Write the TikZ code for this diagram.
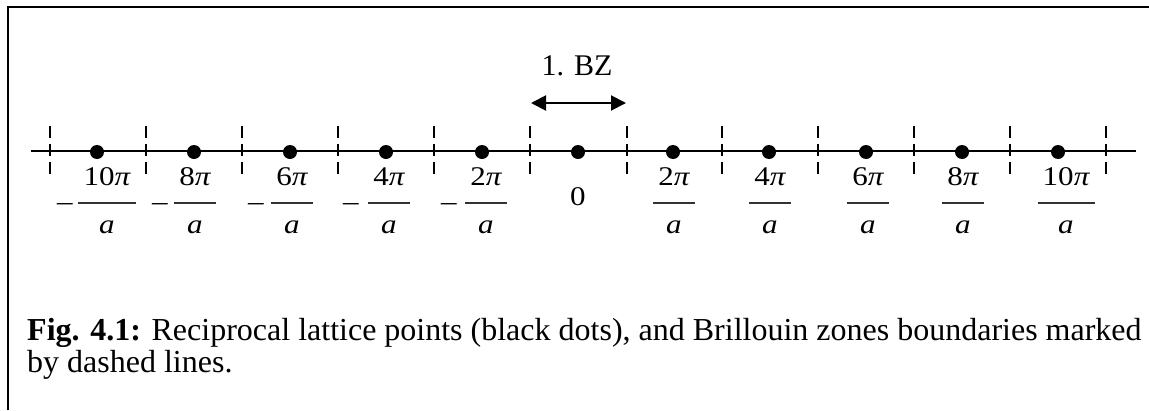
\documentclass[tikz,border=0pt]{standalone}
\usepackage{fontspec}
\setmainfont{Liberation Serif}
\newfontfamily\numfont{Liberation Serif}[FakeStretch=1.15]
\usetikzlibrary{arrows.meta}
\begin{document}
\begin{tikzpicture}[x=1pt,y=-1pt,
  lab/.style={font=\numfont\fontsize{27}{30}\selectfont, inner sep=0pt, anchor=base},
  latdot/.style={circle, fill=black, minimum size=14pt, inner sep=0pt},
  zone/.style={line width=1.6pt, dash pattern=on 12pt off 6pt},
  fbar/.style={line width=1.2pt, black!80},
  captext/.style={font=\fontsize{32}{36}\selectfont, inner sep=0pt, anchor=base west},
  ]
\useasboundingbox (0,0) rectangle (1149,410);
% frame
\coordinate (fb) at (8,410);
\coordinate (fc) at (8,7);
\coordinate (fr) at (1149,7);
\draw[line width=2pt] (fb) -- (fc) -- (fr);
% axis
\coordinate (L) at (31,151);
\coordinate (R) at (1136,151);
\draw[line width=2.2pt] (L) -- (R);
% zone boundaries
\foreach \x [count=\i] in {50,146,242,338,434,530,627,722,818,914,1010,1106} {
  \coordinate (zt\i) at (\x,126);
  \coordinate (zb\i) at (\x,175);
  \draw[zone] (zt\i) -- (zb\i);
}
% lattice points
\foreach \x [count=\i] in {97,194,290,386,482,578,673,769,866,962,1058} {
  \node[latdot] (d\i) at (\x,152) {};
}
% negative labels
\foreach \cx/\mx/\num [count=\i] in {107/65/10,195/160/8,292/256/6,389/351/4,486/449/2} {
  \node[lab] (nn\i) at (\cx,185) {\num{\itshape π}};
  \node[lab] (na\i) at (\cx,233) {\itshape a};
  \node[lab] (nm\i) at (\mx,210) {–};
  \draw[fbar] ([xshift=-5pt,yshift=-18pt]nn\i.base west) -- ([xshift=5pt,yshift=-18pt]nn\i.base east);
}
% zero
\node[lab] (zero) at (578,205) {0};
% positive labels
\foreach \cx/\num [count=\i] in {674/2,770/4,868/6,963/8,1066/10} {
  \node[lab] (pn\i) at (\cx,185) {\num{\itshape π}};
  \node[lab] (pa\i) at (\cx,233) {\itshape a};
  \draw[fbar] ([xshift=-5pt,yshift=-18pt]pn\i.base west) -- ([xshift=5pt,yshift=-18pt]pn\i.base east);
}
% first Brillouin zone
\node[font=\fontsize{30}{34}\selectfont, inner sep=0pt, anchor=base] (bz) at (577,75) {1. BZ};
\coordinate (bzl) at (531,103);
\coordinate (bzr) at (626,103);
\draw[line width=2pt, {Triangle[length=15pt,width=15pt]}-{Triangle[length=15pt,width=15pt]}] (bzl) -- (bzr);
% caption
\node[captext] (cap1) at (27,340) {\textbf{Fig. 4.1:} Reciprocal lattice points (black dots), and Brillouin zones boundaries marked};
\node[captext] (cap2) at (27,372) {by dashed lines.};
\end{tikzpicture}
\end{document}
